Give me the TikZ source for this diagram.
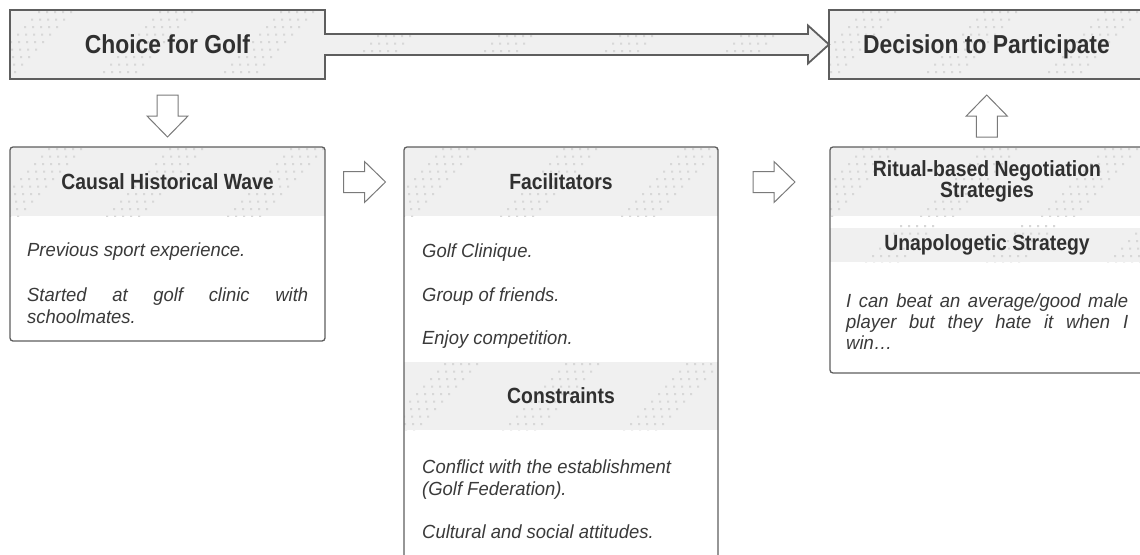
\documentclass[tikz,border=0pt]{standalone}
\usepackage{fontspec}
\setmainfont{Liberation Sans}
\newfontfamily\headfont[FakeStretch=0.88]{Liberation Sans}
\newfontfamily\bodyfont[FakeStretch=0.97]{Liberation Sans}
\usetikzlibrary{calc}

\definecolor{bandgray}{HTML}{F0F0F0}
\definecolor{dotgray}{HTML}{D7D7D7}
\definecolor{edgegray}{HTML}{5E5E5E}
\definecolor{arrowgray}{HTML}{7A7A7A}
\definecolor{inkgray}{HTML}{303030}
\definecolor{bodyink}{HTML}{3A3A3A}

% halftone stripes: x0, y0, x1, y1, phase
\newcommand{\halftone}[5]{%
  \begin{scope}
    \clip (#1,#2) rectangle (#3,#4);
    \fill[dotgray] \foreach \r in {0,...,9} {
      \foreach \k in {-1,...,7} {
        \foreach \j in {0,...,4} {
          ({#1+#5+121*\k-7*\r+8*\j},{#2+1+7.5*\r}) rectangle ++(2.2,2.2)
        }
      }
    };
  \end{scope}}

\tikzset{
  boxshape/.style={rectangle, inner sep=0pt, outer sep=0pt, fill=white},
  boxedge/.style={draw=edgegray, line width=1.3pt, rounded corners=3pt},
  bigedge/.style={draw=edgegray, line width=1.8pt, line join=miter},
  hollowarrow/.style={draw=arrowgray, line width=1pt, fill=white, line join=miter},
  titletext/.style={anchor=base, inner sep=0pt, text=inkgray,
    font=\headfont\bfseries\fontsize{26}{30}\selectfont},
  headtext/.style={anchor=base, inner sep=0pt, text=inkgray,
    font=\headfont\bfseries\fontsize{22}{24}\selectfont},
  bodytext/.style={anchor=base west, inner sep=0pt, text=bodyink,
    font=\bodyfont\itshape\fontsize{19}{22}\selectfont},
  blockarrow/.pic={
    \path[hollowarrow] (-21,-10.5) -- (0,-10.5) -- (0,-20.5) -- (21,0)
      -- (0,20.5) -- (0,10.5) -- (-21,10.5) -- cycle;
  },
}

\begin{document}
\begin{tikzpicture}[x=1pt,y=-1pt]
\useasboundingbox (0,0) rectangle (1140,554);
\clip (0,0) rectangle (1140,554);

% ---- top row: choice box joined to its arrow, and the decision box
\node[boxshape, fill=bandgray, minimum width=315pt, minimum height=69pt] (choice) at (167.5,44.5) {};
\node[boxshape, fill=bandgray, minimum width=315pt, minimum height=69pt] (decision) at (986.5,44.5) {};
\fill[bandgray] (choice.north west) -- (choice.north east) -- ($(choice.east)+(0,-10.5)$)
  -- ($(decision.west)+(-21,-10.5)$) -- ($(decision.west)+(-21,-19)$) -- (decision.west)
  -- ($(decision.west)+(-21,19)$) -- ($(decision.west)+(-21,10.5)$)
  -- ($(choice.east)+(0,10.5)$) -- (choice.south east) -- (choice.south west) -- cycle;
\halftone{10}{10}{325}{79}{28}
\halftone{325}{34}{808}{55}{52}
\halftone{829}{10}{1144}{79}{33}
\draw[bigedge] (choice.north west) -- (choice.north east) -- ($(choice.east)+(0,-10.5)$)
  -- ($(decision.west)+(-21,-10.5)$) -- ($(decision.west)+(-21,-19)$) -- (decision.west)
  -- ($(decision.west)+(-21,19)$) -- ($(decision.west)+(-21,10.5)$)
  -- ($(choice.east)+(0,10.5)$) -- (choice.south east) -- (choice.south west) -- cycle;
\draw[bigedge] (decision.north west) rectangle (decision.south east);
\node[titletext] (choicetxt) at (167.5,53) {Choice for Golf};
\node[titletext] (decisiontxt) at (986.5,53) {Decision to Participate};

% ---- lower boxes
\node[boxshape, minimum width=315pt, minimum height=194pt] (causal) at (167.5,244) {};
\node[boxshape, minimum width=314pt, minimum height=460pt] (facil) at (561,377) {};
\node[boxshape, minimum width=314pt, minimum height=226pt] (ritual) at (987,260) {};

% header bands
\begin{scope}
  \clip[rounded corners=3pt] (causal.north west) rectangle (causal.south east);
  \fill[bandgray] (10,147) rectangle (325,216);
  \halftone{10}{147}{325}{216}{38}
\end{scope}
\begin{scope}
  \clip[rounded corners=3pt] (facil.north west) rectangle (facil.south east);
  \fill[bandgray] (404,147) rectangle (718,216);
  \halftone{404}{147}{718}{216}{38}
  \fill[bandgray] (404,362) rectangle (718,430);
  \halftone{404}{362}{718}{430}{40}
\end{scope}
\begin{scope}
  \clip[rounded corners=3pt] (ritual.north west) rectangle (ritual.south east);
  \fill[bandgray] (830,147) rectangle (1144,216);
  \halftone{830}{147}{1144}{216}{32}
  \fill[bandgray] (830,228) rectangle (1144,262);
  \halftone{830}{224}{1144}{262}{70}
\end{scope}

\draw[boxedge] (causal.north west) rectangle (causal.south east);
\draw[boxedge] (facil.north west) rectangle (facil.south east);
\draw[boxedge] (ritual.north west) rectangle (ritual.south east);

% ---- hollow block arrows between the boxes
\coordinate (downmid) at ($(choice.south)!0.5!(causal.north)+(0,3)$);
\pic[rotate=-90] at (downmid) {blockarrow};
\coordinate (upmid) at ($(decision.south)!0.5!(ritual.north)+(0,3)$);
\pic[rotate=90] at (upmid) {blockarrow};
\coordinate (rightone) at ($(causal.north east)!0.5!(facil.north west)+(0,35)$);
\pic at (rightone) {blockarrow};
\coordinate (righttwo) at ($(facil.north east)!0.5!(ritual.north west)+(0,35)$);
\pic at (righttwo) {blockarrow};

% ---- texts
\node[headtext] (causalhd) at (167.5,189) {Causal Historical Wave};
\node[bodytext] (causal1) at (27,256) {Previous sport experience.};
\node[bodytext] (causal2) at (27,301) {\makebox[281pt][s]{Started at golf clinic with}};
\node[bodytext] (causal3) at (27,323) {schoolmates.};

\node[headtext] (facilhd) at (561,189) {Facilitators};
\node[bodytext] (facil1) at (422,257) {Golf Clinique.};
\node[bodytext] (facil2) at (422,301) {Group of friends.};
\node[bodytext] (facil3) at (422,344) {Enjoy competition.};

\node[headtext] (constrhd) at (561,403) {Constraints};
\node[bodytext] (constr1) at (422,473) {Conflict with the establishment};
\node[bodytext] (constr2) at (422,495) {(Golf Federation).};
\node[bodytext] (constr3) at (422,538) {Cultural and social attitudes.};

\node[headtext] (ritualhd1) at (987,176) {Ritual-based Negotiation};
\node[headtext] (ritualhd2) at (987,197) {Strategies};
\node[headtext] (unapolhd) at (987,250) {Unapologetic Strategy};
\node[bodytext] (ritual1) at (846,307) {\makebox[282pt][s]{I can beat an average/good male}};
\node[bodytext] (ritual2) at (846,328) {\makebox[282pt][s]{player but they hate it when I}};
\node[bodytext] (ritual3) at (846,349) {win\ldots};
\end{tikzpicture}
\end{document}
